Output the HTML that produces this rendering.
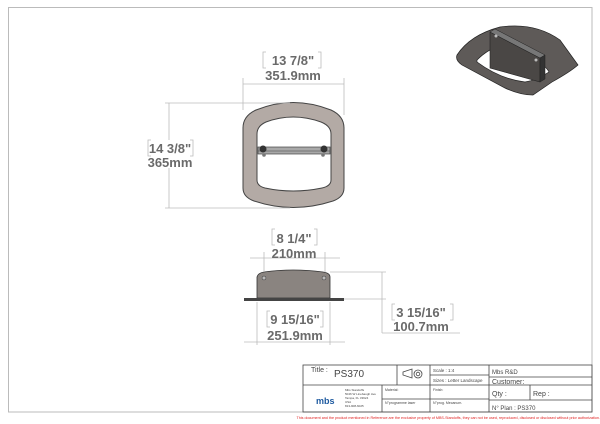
<!DOCTYPE html>
<html><head><meta charset="utf-8"><style>
html,body{margin:0;padding:0;background:#fff;width:600px;height:424px;overflow:hidden}
svg{display:block}
.d{font-family:"Liberation Sans",sans-serif;font-weight:bold;fill:#6a6a6a;font-size:13px}
.s{font-family:"Liberation Sans",sans-serif;fill:#444}
</style></head><body>
<svg width="600" height="424" viewBox="0 0 600 424" xmlns="http://www.w3.org/2000/svg">
<rect x="8.5" y="7.5" width="583.5" height="404.5" fill="none" stroke="#bbb" stroke-width="1"/>
<!-- Front view -->
<path fill-rule="evenodd" fill="#b3aaa5" stroke="#444" stroke-width="1"
 d="M256 110 Q293 95 331 110 Q344 116 344 128 L344 188 Q344 197 333 201 Q293 214 254 201 Q243 197 243 188 L243 128 Q243 116 256 110 Z
 M266 122 Q293 112 321 122 Q331 126 331 134 L331 180 Q331 186 322 188 Q293 194 265 188 Q257 186 257 180 L257 134 Q257 126 266 122 Z"/>
<rect x="258" y="147" width="72" height="7" fill="#a8a8a8" stroke="#444" stroke-width="0.7"/>
<line x1="258" y1="151" x2="330" y2="151" stroke="#444" stroke-width="0.6"/>
<circle cx="263" cy="149" r="3.5" fill="#333"/><circle cx="324" cy="149" r="3.5" fill="#333"/>
<circle cx="264" cy="155" r="1.8" fill="#777"/><circle cx="323" cy="155" r="1.8" fill="#777"/>
<!-- front dims -->
<g stroke="#bbb" stroke-width="0.8" fill="none">
<line x1="243" y1="78" x2="243" y2="110"/><line x1="344" y1="78" x2="344" y2="115"/>
<line x1="243" y1="84" x2="344" y2="84"/>
<line x1="165" y1="103" x2="290" y2="103"/><line x1="165" y1="208" x2="290" y2="208"/>
<line x1="169" y1="103" x2="169" y2="140"/><line x1="169" y1="168" x2="169" y2="208"/>
<path d="M266 52h-3v16h3 M318 52h3v16h-3"/>
<path d="M151 140h-3v16h3 M190 140h3v16h-3"/>
</g>
<text class="d" x="293" y="65" text-anchor="middle">13 7/8"</text>
<text class="d" x="293" y="80" text-anchor="middle">351.9mm</text>
<text class="d" x="170" y="153" text-anchor="middle">14 3/8"</text>
<text class="d" x="170" y="167" text-anchor="middle">365mm</text>
<!-- Side view -->
<path d="M257 298 L257 277 Q258 273 264 272 Q293 268 323 272 Q330 273 330 277 L330 298 Z" fill="#8a8480" stroke="#333" stroke-width="0.8"/>
<rect x="244" y="298" width="100" height="3" fill="#444"/>
<circle cx="264" cy="278" r="2" fill="#bbb" stroke="#333" stroke-width="0.5"/><circle cx="324" cy="278" r="2" fill="#bbb" stroke="#333" stroke-width="0.5"/>
<g stroke="#bbb" stroke-width="0.8" fill="none">
<line x1="264" y1="252" x2="264" y2="272"/><line x1="325" y1="252" x2="325" y2="272"/>
<line x1="250" y1="258" x2="340" y2="258"/>
<line x1="330" y1="272" x2="386" y2="272"/><line x1="344" y1="299" x2="386" y2="299"/>
<line x1="382" y1="272" x2="382" y2="333"/><line x1="382" y1="333" x2="460" y2="333"/>
<line x1="257" y1="302" x2="257" y2="345"/><line x1="330" y1="302" x2="330" y2="345"/>
<line x1="244" y1="342" x2="345" y2="342"/>
<path d="M275 229h-3v16h3 M314 229h3v16h-3"/>
<path d="M395 304h-3v16h3 M450 304h3v16h-3"/>
<path d="M270 311h-3v16h3 M320 311h3v16h-3"/>
</g>
<text class="d" x="294" y="243" text-anchor="middle">8 1/4"</text>
<text class="d" x="294" y="258" text-anchor="middle">210mm</text>
<text class="d" x="421" y="317" text-anchor="middle">3 15/16"</text>
<text class="d" x="421" y="331" text-anchor="middle">100.7mm</text>
<text class="d" x="295" y="324" text-anchor="middle">9 15/16"</text>
<text class="d" x="295" y="340" text-anchor="middle">251.9mm</text>
<!-- Iso view -->
<path fill-rule="evenodd" fill="#5e5a58" stroke="#222" stroke-width="0.7"
 d="M457 55 Q470 35 500 27 Q535 22 560 40 L578 65 Q570 72 552 82 L533 95 Q520 95 505 88 L462 65 Q455 60 457 55 Z
 M477 60 Q488 49 500 46 L535 60 Q546 66 549 72 Q537 80 525 82 Q500 79 477 62 Z"/>
<path d="M490 32 L540 58 L540 82 L490 68 Z" fill="#4a4745" stroke="#222" stroke-width="0.6"/>
<path d="M490 32 L495 29 L545 55 L540 58 Z" fill="#777" stroke="#222" stroke-width="0.5"/>
<path d="M540 58 L545 55 L545 79 L540 82 Z" fill="#333" stroke="#222" stroke-width="0.5"/>
<circle cx="496" cy="36" r="1.5" fill="#bbb"/><circle cx="536" cy="60" r="1.5" fill="#bbb"/>
<!-- Title block -->
<g stroke="#444" stroke-width="0.8" fill="none">
<rect x="303" y="365" width="289" height="47"/>
<line x1="303" y1="385" x2="592" y2="385"/>
<line x1="397" y1="365" x2="397" y2="385"/>
<line x1="430" y1="365" x2="430" y2="412"/>
<line x1="489" y1="365" x2="489" y2="412"/>
<line x1="430" y1="375" x2="489" y2="375"/>
<line x1="489" y1="377" x2="592" y2="377"/>
<line x1="489" y1="400" x2="592" y2="400"/>
<line x1="530" y1="385" x2="530" y2="400"/>
<line x1="382" y1="385" x2="382" y2="412"/>
<line x1="382" y1="399" x2="489" y2="399"/>
<path d="M403 372 L412 369 L412 378 L403 375 Z"/>
<circle cx="418" cy="374" r="4"/><circle cx="418" cy="374" r="1.8"/>
</g>
<text class="s" x="311" y="372" font-size="7">Title :</text>
<text class="s" x="334" y="377" font-size="10">PS370</text>
<text class="s" x="433" y="372" font-size="4.5">Scale : 1:4</text>
<text class="s" x="433" y="382" font-size="4.5">Sizes : Letter Landscape</text>
<text class="s" x="492" y="374" font-size="6">Mbs R&amp;D</text>
<text class="s" x="492" y="384" font-size="7">Customer:</text>
<text class="s" x="492" y="396" font-size="7">Qty :</text>
<text class="s" x="533" y="396" font-size="7">Rep :</text>
<text class="s" x="492" y="410" font-size="6">N° Plan : PS370</text>
<text class="s" x="385" y="391" font-size="3.5">Material:</text>
<text class="s" x="433" y="391" font-size="3.5">Finish:</text>
<text class="s" x="385" y="404" font-size="3.5">N°programme laser</text>
<text class="s" x="433" y="404" font-size="3.5">N°prog. Mecanum.</text>
<text class="s" x="345" y="391" font-size="3">Mbs Standoffs</text>
<text class="s" x="345" y="395" font-size="3">5046 W Linebaugh Ave</text>
<text class="s" x="345" y="399" font-size="3">Tampa, FL 33624</text>
<text class="s" x="345" y="403" font-size="3">USA</text>
<text class="s" x="345" y="407" font-size="3">813-908-6025</text>
<text x="316" y="404" font-family="Liberation Sans,sans-serif" font-weight="bold" font-size="9" fill="#1e5aa0">mbs</text>
<text x="600" y="419" text-anchor="end" font-family="Liberation Sans,sans-serif" font-size="3.7" fill="#e02020">This document and the product mentioned in Reference are the exclusive property of MBS-Standoffs, they can not be used, reproduced, disclosed or disclosed without prior authorization.</text>
</svg>
</body></html>
